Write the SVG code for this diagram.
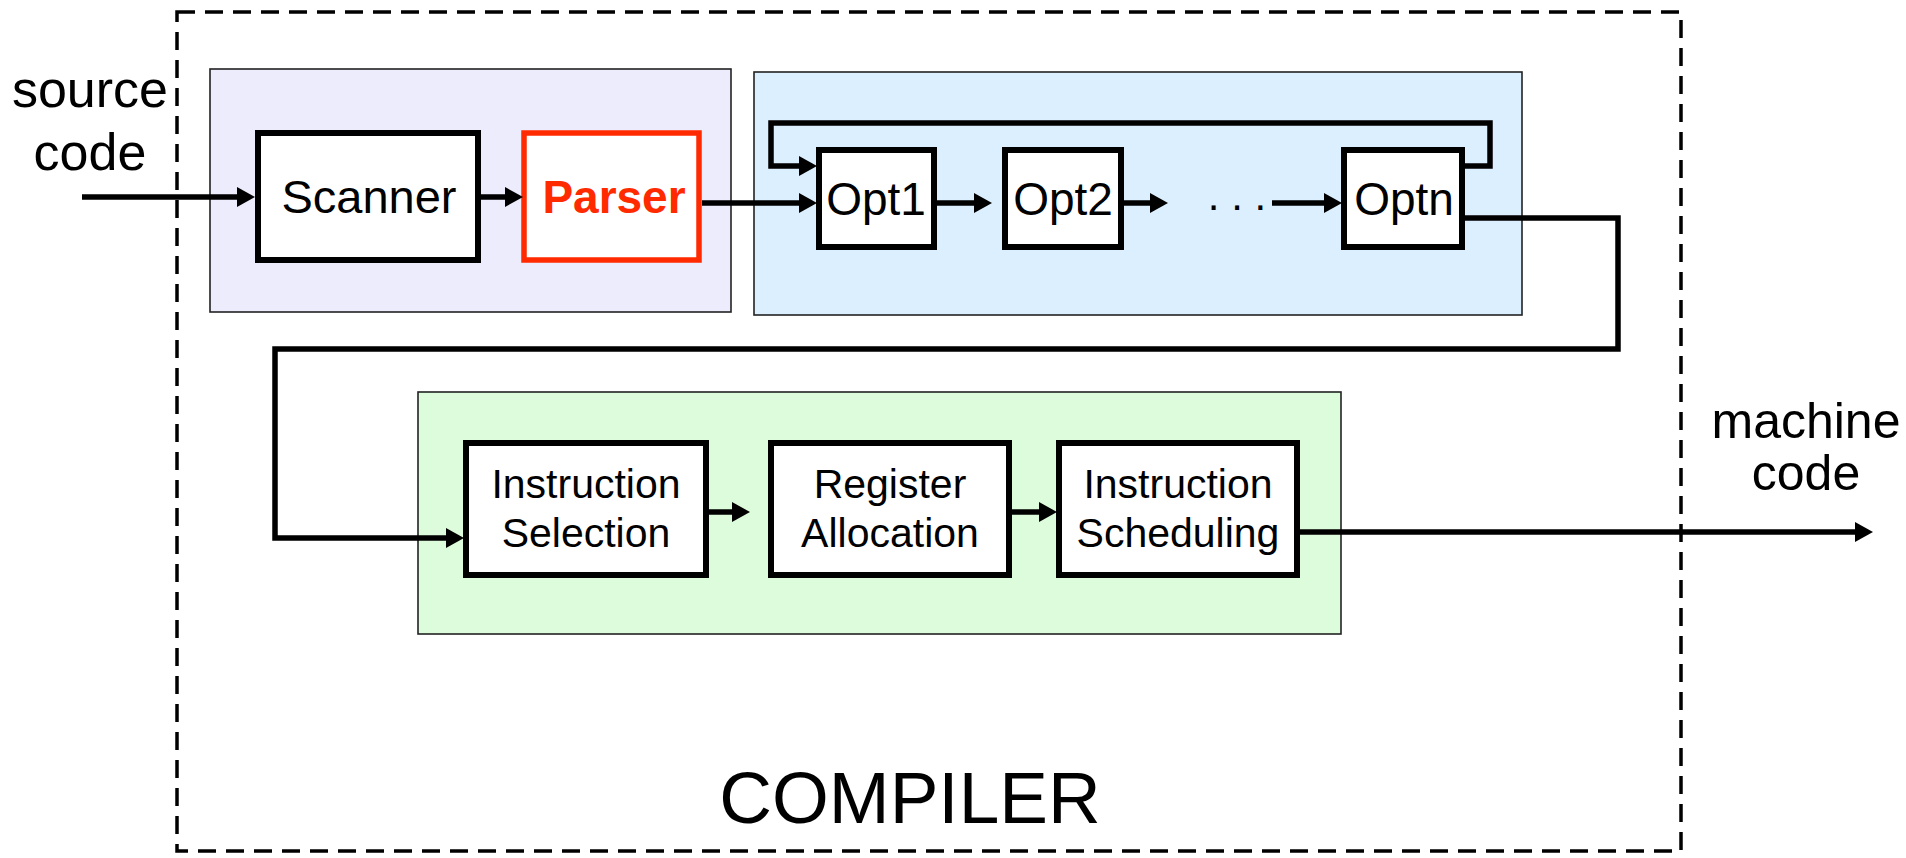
<svg xmlns="http://www.w3.org/2000/svg" width="1906" height="858" viewBox="0 0 1906 858">
<defs>
<marker id="ah" markerUnits="userSpaceOnUse" markerWidth="20" markerHeight="22" refX="8" refY="10" orient="auto">
<path d="M0,0 L18,10 L0,20 z" fill="#000"/>
</marker>
</defs>
<style>
text{font-family:"Liberation Sans",Arial,sans-serif;fill:#000;text-anchor:middle}
.grp{stroke:#222;stroke-width:1.6}
.box{fill:#fff;stroke:#000;stroke-width:6}
.t46{font-size:46px}
.t41{font-size:41px}
.conn{fill:none;stroke:#000;stroke-width:5.5}
</style>
<rect width="1906" height="858" fill="#fff"/>
<g id="compiler">
<rect x="177" y="12" width="1504" height="839" fill="none" stroke="#000" stroke-width="3.5" stroke-dasharray="18 10"/>
<text x="910" y="823" style="font-size:73px">COMPILER</text>
</g>
<g id="frontend"><rect class="grp" x="210" y="69" width="521" height="243" fill="#ececfc"/></g>
<g id="optimizer"><rect class="grp" x="754" y="72" width="768" height="243" fill="#dcefff"/></g>
<g id="backend"><rect class="grp" x="418" y="392" width="923" height="242" fill="#ddfcdc"/></g>
<g id="source"><text x="90" y="107" style="font-size:52px">source</text><text x="90" y="170" style="font-size:52px">code</text></g>
<g id="machine"><text x="1806" y="438" style="font-size:50px">machine</text><text x="1806" y="490" style="font-size:50px">code</text></g>
<g id="scanner"><rect class="box" x="258" y="133" width="220" height="127"/><text class="t46" x="369" y="213" style="font-size:47px">Scanner</text></g>
<g id="parser"><rect x="524" y="133" width="175" height="127" fill="#fff" stroke="#ff2a00" stroke-width="5.5"/><text class="t46" x="614" y="213" style="font-weight:bold;fill:#ff2a00">Parser</text></g>
<g id="opt1"><rect class="box" x="819" y="150" width="115" height="97"/><text class="t46" x="876" y="215">Opt1</text></g>
<g id="opt2"><rect class="box" x="1005" y="150" width="116" height="97"/><text class="t46" x="1063" y="215">Opt2</text></g>
<g id="dots"><text x="1237" y="210" style="font-size:42px">. . .</text></g>
<g id="optn"><rect class="box" x="1344" y="150" width="118" height="97"/><text class="t46" x="1404" y="215">Optn</text></g>
<g id="isel"><rect class="box" x="466" y="443" width="240" height="132"/><text class="t41" x="586" y="498">Instruction</text><text class="t41" x="586" y="547">Selection</text></g>
<g id="ralloc"><rect class="box" x="771" y="443" width="238" height="132"/><text class="t41" x="890" y="498">Register</text><text class="t41" x="890" y="547">Allocation</text></g>
<g id="isched"><rect class="box" x="1059" y="443" width="238" height="132"/><text class="t41" x="1178" y="498">Instruction</text><text class="t41" x="1178" y="547">Scheduling</text></g>
<g id="connectors" class="conn">
<path class="conn" d="M82,197 H245" marker-end="url(#ah)"/>
<path class="conn" d="M481,197 H513" marker-end="url(#ah)"/>
<path class="conn" d="M702,203 H807" marker-end="url(#ah)"/>
<path class="conn" d="M1464,166 H1490 V123 H771 V166 H807" marker-end="url(#ah)"/>
<path class="conn" d="M936,203 H982" marker-end="url(#ah)"/>
<path class="conn" d="M1123,203 H1158" marker-end="url(#ah)"/>
<path class="conn" d="M1272,203 H1332" marker-end="url(#ah)"/>
<path class="conn" d="M1464,218 H1618 V349 H275 V538 H454" marker-end="url(#ah)"/>
<path class="conn" d="M709,512 H740" marker-end="url(#ah)"/>
<path class="conn" d="M1011,512 H1047" marker-end="url(#ah)"/>
<path class="conn" d="M1299,532 H1863" marker-end="url(#ah)"/>
</g>
</svg>
